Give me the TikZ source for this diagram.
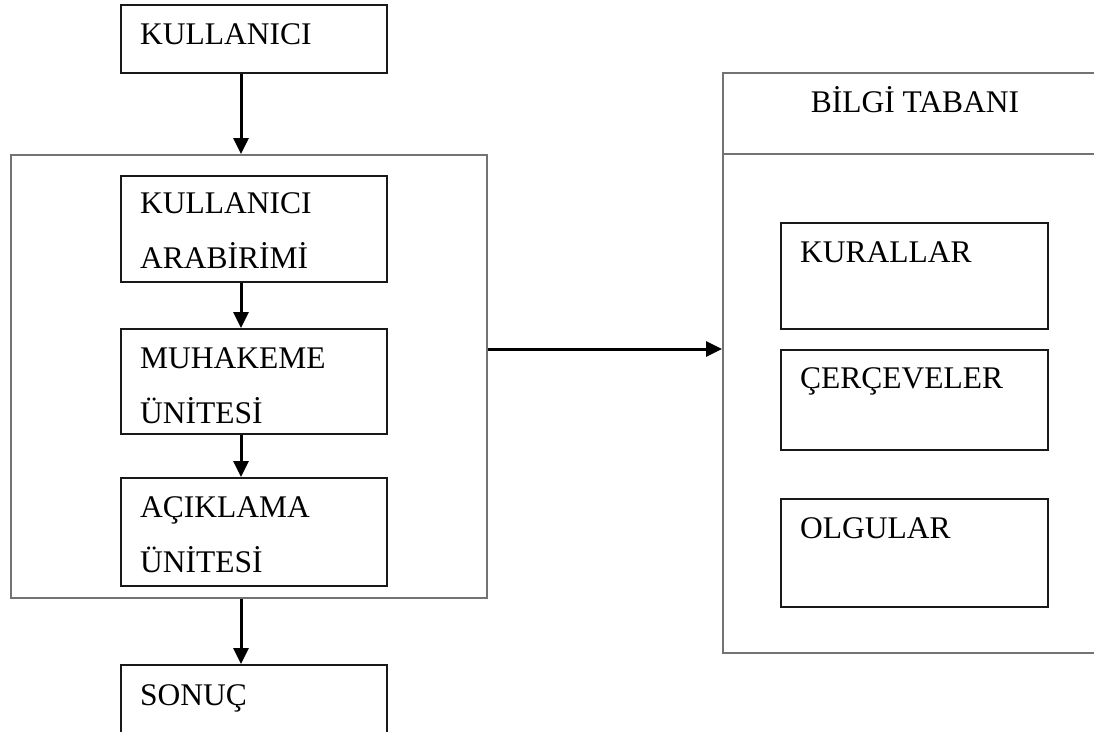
\documentclass[tikz,border=0pt]{standalone}
\usepackage{fontspec}
\setmainfont{Liberation Serif}
\usetikzlibrary{arrows.meta}
\begin{document}
\begin{tikzpicture}[x=1pt,y=-1pt,
  outerbox/.style={draw=black!55,line width=1.8pt,rectangle,anchor=north west,inner sep=0pt},
  innerbox/.style={draw=black!90,line width=1.5pt,rectangle,anchor=north west,inner sep=0pt},
  lbl/.style={anchor=base west,inner sep=0pt,font=\fontsize{31.5}{37}\selectfont},
  arr/.style={line width=3pt,-{Triangle[width=15pt,length=16pt]}}]
\useasboundingbox (0,0) rectangle (1094,731);
\clip (0,0) rectangle (1094,731);
% left column
\node[innerbox,minimum width=266pt,minimum height=68pt] (kul) at (120,4) {};
\node[outerbox,minimum width=476pt,minimum height=443pt] (sys) at (10,154) {};
\node[innerbox,minimum width=266pt,minimum height=106pt] (arb) at (120,175) {};
\node[innerbox,minimum width=266pt,minimum height=105pt] (muh) at (120,328) {};
\node[innerbox,minimum width=266pt,minimum height=108pt] (acik) at (120,477) {};
\node[innerbox,minimum width=266pt,minimum height=120pt] (son) at (120,664) {};
\node[lbl] (tkul) at (140,44) {KULLANICI};
\node[lbl] (tarb1) at (140,213) {KULLANICI};
\node[lbl] (tarb2) at (140,268) {ARABİRİMİ};
\node[lbl] (tmuh1) at (140,368) {MUHAKEME};
\node[lbl] (tmuh2) at (140,423) {ÜNİTESİ};
\node[lbl] (tacik1) at (140,517) {AÇIKLAMA};
\node[lbl] (tacik2) at (140,572) {ÜNİTESİ};
\node[lbl] (tson) at (140,705) {SONUÇ};
% knowledge base
\node[outerbox,minimum width=420pt,minimum height=580pt] (kb) at (722,72) {};
\coordinate (divl) at (722,154);
\coordinate (divr) at (1140,154);
\draw[draw=black!55,line width=1.8pt] (divl) -- (divr);
\node[anchor=base,inner sep=0pt,font=\fontsize{31.5}{37}\selectfont] (tkb) at (915,112) {BİLGİ TABANI};
\node[innerbox,minimum width=267pt,minimum height=106pt] (kur) at (780,222) {};
\node[innerbox,minimum width=267pt,minimum height=100pt] (cer) at (780,349) {};
\node[innerbox,minimum width=267pt,minimum height=108pt] (olg) at (780,498) {};
\node[lbl] (tkur) at (800,262) {KURALLAR};
\node[lbl] (tcer) at (800,388) {ÇERÇEVELER};
\node[lbl] (tolg) at (800,538) {OLGULAR};
% connectors
\coordinate (ax) at (241,0);
\coordinate (ay) at (0,349);
\draw[arr] (kul.south -| ax) -- (sys.north -| ax);
\draw[arr] (arb.south -| ax) -- (muh.north -| ax);
\draw[arr] (muh.south -| ax) -- (acik.north -| ax);
\draw[arr] (sys.south -| ax) -- (son.north -| ax);
\draw[arr] (sys.east |- ay) -- (kb.west |- ay);
\end{tikzpicture}
\end{document}
